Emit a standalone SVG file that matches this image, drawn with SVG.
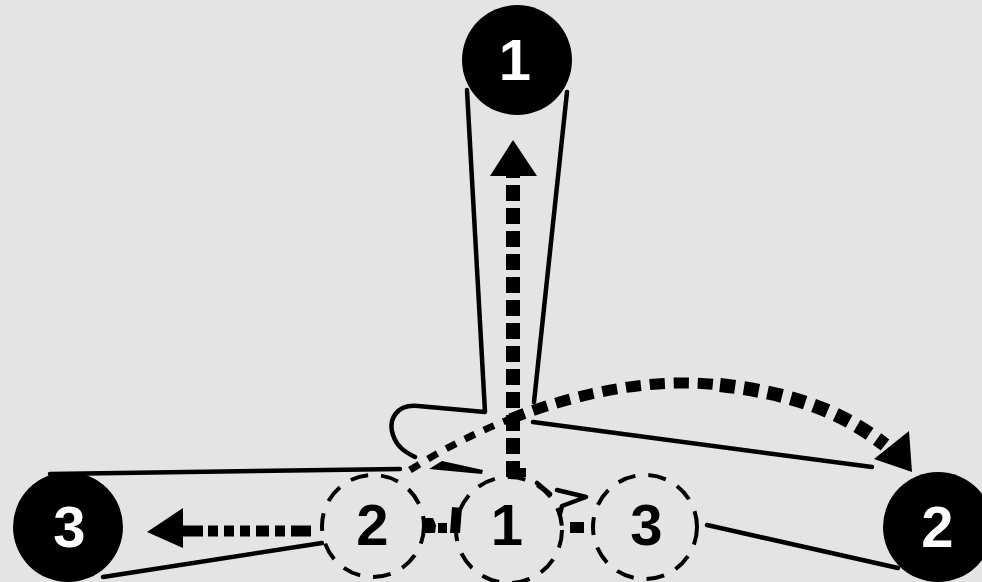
<svg xmlns="http://www.w3.org/2000/svg" width="982" height="582" viewBox="0 0 982 582">
<style>
.bg{fill:#e4e4e4}
.pulley{fill:#000}
.pnum{fill:#fff;font-family:"Liberation Sans",Arial,sans-serif;font-weight:bold;font-size:58px;text-anchor:middle}
.ghost{fill:none;stroke:#000;stroke-width:4;stroke-dasharray:18 13}
.gnum{fill:#000;font-family:"Liberation Sans",Arial,sans-serif;font-weight:bold;font-size:58px;text-anchor:middle}
.belt{fill:none;stroke:#000;stroke-width:4.5;stroke-linecap:round;stroke-linejoin:round}
.dot{fill:none;stroke:#000}
.head{fill:#000}
.bit{fill:#000}
</style>
<rect class="bg" x="0" y="0" width="982" height="582"/>
<g id="connectors">
  <!-- belts -->
  <path class="belt" d="M467 90 L485 412 L418 406 C396 404 388 420 393 435 C397 447 405 452 415 457"/>
  <path class="belt" d="M567 92 L534 402"/>
  <path class="belt" d="M533 422 L872 467"/>
  <path class="belt" d="M707 525 L898 568"/>
  <path class="belt" d="M50 474 L400 469"/>
  <path class="belt" d="M103 577 L322 543"/>
  <polygon class="bit" points="429,469 442,461 483,470 482,474"/>
  <path class="belt" d="M537 483 L550 494 M557 490 L586 497 L562 506 L560 514"/>
  <rect class="bit" x="570" y="522" width="14" height="11"/>
  <polygon class="bit" points="425,518 433,518 436,525 435,533 425,533"/>
  <rect class="bit" x="438" y="523" width="9" height="10"/>
  <polygon class="bit" points="452,507 462,508 460,533 450,533"/>
  <!-- vertical dotted arrow -->
  <path class="dot" d="M513 477 L513 176" stroke-width="14" stroke-dasharray="16 7"/>
  <polygon class="head" points="513,140 537,176 490,176"/>
  <rect class="bit" x="506" y="468" width="20" height="9"/>
  <!-- left dotted arrow -->
  <path class="dot" d="M183 531 L323 531" stroke-width="11" stroke-dasharray="20 5 10 6 10 6 10 6 13 6 10 6 20"/>
  <polygon class="head" points="147,532 183,508 183,548"/>
  <!-- curved dotted arrow -->
  <path class="dot" d="M410 470 C443 449 476.9 432.05 510.35 418.9" stroke-width="7" stroke-dasharray="11 10"/>
  <path class="dot" d="M510.35 418.9 C588.4 388.15 664 378 720 385" stroke-width="11" stroke-dasharray="15 9"/>
  <path class="dot" d="M720 385 C790 393 840 410 885 445" stroke-width="14" stroke-dasharray="15 9"/>
  <polygon class="head" points="874,459 909,431 912,472"/>
</g>
<g id="pulley-1">
  <circle class="pulley" cx="517" cy="60" r="55"/>
  <text class="pnum" x="515" y="80">1</text>
</g>
<g id="pulley-2">
  <circle class="pulley" cx="938" cy="527" r="55"/>
  <text class="pnum" x="937.5" y="547">2</text>
</g>
<g id="pulley-3">
  <circle class="pulley" cx="68" cy="527" r="55"/>
  <text class="pnum" x="69.5" y="547">3</text>
</g>
<g id="ghost-2">
  <circle class="ghost" cx="373" cy="526" r="51"/>
  <text class="gnum" x="372.5" y="545">2</text>
</g>
<g id="ghost-1">
  <circle class="ghost" cx="509" cy="530" r="53"/>
  <text class="gnum" x="507" y="545">1</text>
</g>
<g id="ghost-3">
  <circle class="ghost" cx="645" cy="527" r="52"/>
  <text class="gnum" x="646.5" y="545">3</text>
</g>
</svg>
